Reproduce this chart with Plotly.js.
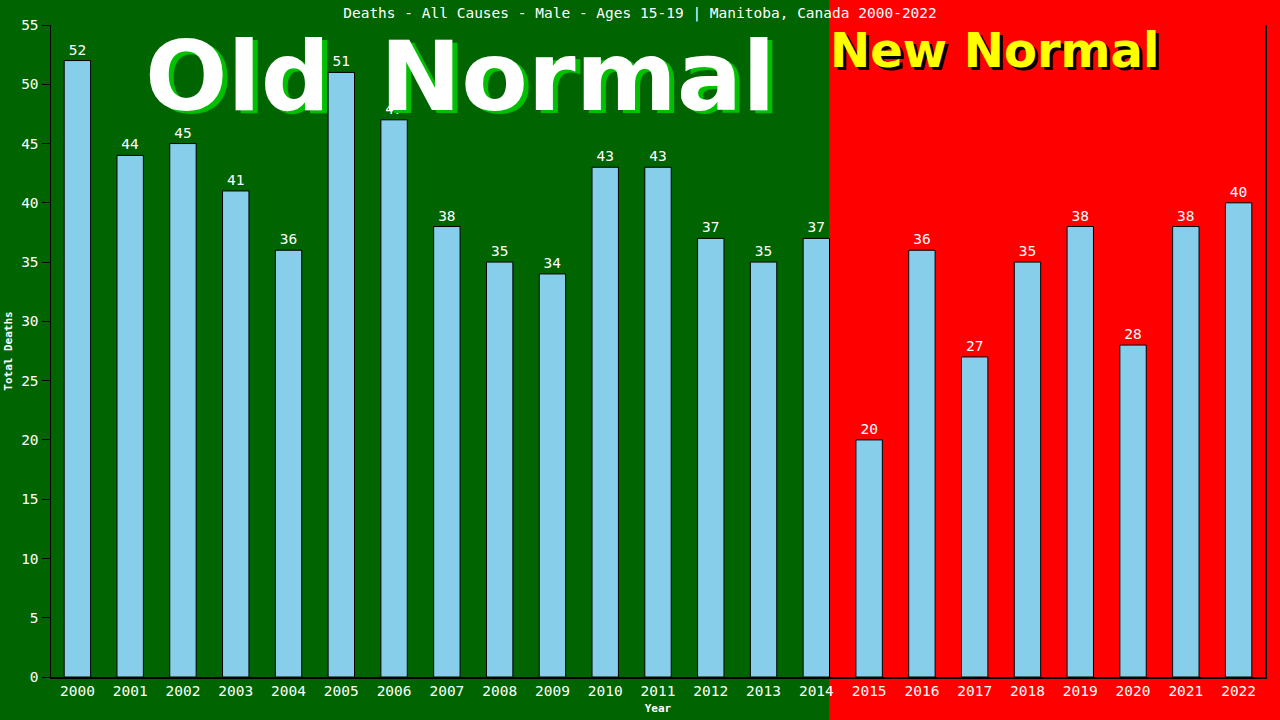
<!DOCTYPE html>
<html>
<head>
<meta charset="utf-8">
<script src="https://cdn.plot.ly/plotly-3.0.1.min.js"></script>
<style>
  html, body { margin: 0; padding: 0; background: #ff0000; }
  #chart { width: 1280px; height: 720px; }
</style>
</head>
<body>
<div id="chart"></div>
<script>
const years = ["2000","2001","2002","2003","2004","2005","2006","2007","2008","2009","2010","2011",
               "2012","2013","2014","2015","2016","2017","2018","2019","2020","2021","2022"]
const deaths = [52,44,45,41,36,51,47,38,35,34,43,43,37,35,37,20,36,27,35,38,28,38,40]

const mono = "DejaVu Sans Mono, monospace"
const bold = "DejaVu Sans, Verdana, sans-serif"

let trace = {
    x: years,
    y: deaths,
    type: 'bar',
    text: deaths.map(String),
    textposition: 'outside',
    cliponaxis: false,
    textfont: {family: mono, size: 14.5, color: '#ffffff'},
    marker: {color: '#87CEEB', line: {color: '#000000', width: 1}},
    hoverinfo: 'none'
}

// big shadowed words, drawn as a coloured copy under a shifted copy
function shadowText(txt, x, y, size, color, shade, dx, dy){
    let base = {text: '<b>' + txt + '</b>', xref: 'paper', yref: 'paper', x: x, y: y,
                xanchor: 'center', yanchor: 'top', showarrow: false}
    return [
        Object.assign({}, base, {xshift: dx, yshift: -dy, font: {family: bold, size: size, color: shade}}),
        Object.assign({}, base, {font: {family: bold, size: size, color: color}})
    ]
}

let layout = {
    width: 1280,
    height: 720,
    margin: {l: 51, r: 15, t: 25, b: 43},
    paper_bgcolor: '#ff0000',
    plot_bgcolor: 'rgba(0,0,0,0)',
    showlegend: false,
    bargap: 0.5,
    title: {
        text: 'Deaths - All Causes - Male - Ages 15-19 | Manitoba, Canada 2000-2022',
        font: {family: mono, size: 14.5, color: '#ffffff'},
        x: 0.5, xanchor: 'center', y: 0.982, yanchor: 'middle'
    },
    xaxis: {
        type: 'category',
        range: [-0.5, 22.5],
        showline: true, linecolor: '#000000', linewidth: 1.5,
        ticks: '', showgrid: false, zeroline: false,
        tickfont: {family: mono, size: 14.5, color: '#ffffff'},
        title: {text: '<b>Year</b>', font: {family: mono, size: 11, color: '#ffffff'}, standoff: 6}
    },
    yaxis: {
        range: [0, 55],
        dtick: 5,
        showline: true, linecolor: '#000000', linewidth: 1.5, mirror: true,
        ticks: 'outside', ticklen: 8, tickcolor: '#000000',
        showgrid: false, zeroline: false,
        tickfont: {family: mono, size: 14.5, color: '#ffffff'},
        title: {text: '<b>Total Deaths</b>', font: {family: mono, size: 11, color: '#ffffff'}, standoff: 6}
    },
    shapes: [{
        type: 'rect', layer: 'below',
        xref: 'paper', yref: 'paper',
        x0: -0.06, x1: 0.641, y0: -0.1, y1: 1.1,
        fillcolor: '#006400', line: {width: 0}
    }],
    annotations: [].concat(
        shadowText('Old', 0.1540, 1.011, 97, '#ffffff', '#00c000', 5, 3),
        shadowText('Normal', 0.4333, 1.011, 97, '#ffffff', '#00c000', 5, 3),
        shadowText('New Normal', 0.7768, 1.0077, 48, '#ffff00', '#000000', 3, 3)
    )
}

Plotly.newPlot('chart', [trace], layout, {staticPlot: true})
</script>
</body>
</html>
